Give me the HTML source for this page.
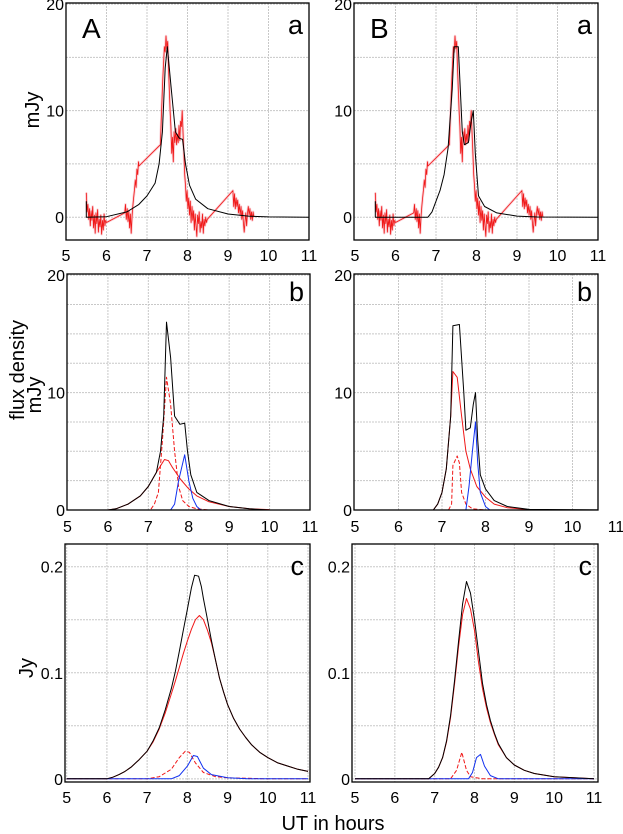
<!DOCTYPE html>
<html><head><meta charset="utf-8">
<style>
html,body{margin:0;padding:0;background:#fff;}
svg{display:block;font-family:"Liberation Sans",sans-serif;}
</style></head>
<body>
<svg id="fig" width="623" height="834" viewBox="0 0 623 834" xmlns="http://www.w3.org/2000/svg">
<text x="0" y="0" font-size="20" text-anchor="middle" transform="translate(39,110) rotate(-90)">mJy</text>
<text x="0" y="0" font-size="20" text-anchor="middle" transform="translate(24,370) rotate(-90)">flux density</text>
<text x="0" y="0" font-size="20" text-anchor="middle" transform="translate(41,395) rotate(-90)">mJy</text>
<text x="0" y="0" font-size="20" text-anchor="middle" transform="translate(33,668) rotate(-90)">Jy</text>
<text x="333" y="830" font-size="20" text-anchor="middle">UT in hours</text>
</svg>
<script>
// ---- data (hours, flux) ----
const obsT = [5.5,5.52,5.54,5.56,5.58,5.6,5.62,5.64,5.66,5.68,5.7,5.72,5.74,5.76,5.78,5.8,5.82,5.84,5.86,5.88,5.9,5.92,5.94,5.96,5.98,6.0,6.45,6.47,6.49,6.51,6.53,6.55,6.57,6.59,6.61,6.63,6.65,6.67,6.69,6.71,6.73,6.75,6.77,6.79,6.8,7.33,7.35,7.37,7.39,7.41,7.43,7.45,7.47,7.49,7.51,7.53,7.55,7.57,7.59,7.61,7.63,7.65,7.67,7.69,7.71,7.73,7.75,7.77,7.79,7.81,7.83,7.85,7.87,7.89,7.91,7.93,7.95,7.97,7.99,8.01,8.03,8.05,8.07,8.09,8.11,8.13,8.15,8.17,8.19,8.21,8.23,8.25,8.27,8.29,8.31,8.33,8.35,8.37,8.39,8.41,8.43,8.45,8.47,8.49,9.12,9.14,9.16,9.18,9.2,9.22,9.24,9.26,9.28,9.3,9.32,9.34,9.36,9.38,9.4,9.42,9.44,9.46,9.48,9.5,9.52,9.54,9.56,9.58,9.6,9.62,9.64];
const obsV = [2.3,0.5,1.2,-0.2,0.8,-0.8,0.6,-0.3,1,-1.0,0.2,-1.5,0.4,-0.6,0.7,-1.4,-0.2,-0.9,0.2,-1.6,-0.3,-1.2,0.3,-0.8,-0.3,-0.5,0.4,1.2,-0.2,0.8,-0.4,0.6,-1.0,0.3,-1.5,0.0,1.0,1.8,2.5,3.5,2.8,4.5,4.0,5.2,4.8,6.8,9,11,13,14.5,16,15.5,17,15.8,16.5,14,12,10,8.5,6,7.5,5.2,8,7,8.3,6.8,7.8,7.0,8.6,7.2,9,8.5,10,8,6,4,3,1.5,2.5,0.8,1.8,0.2,1.5,-0.5,1.0,-0.3,0.6,-1.2,0.3,-0.8,-1.8,0.2,-0.6,0.5,-1.4,-0.4,-1.0,0.3,-1.5,-0.2,-0.8,0.0,-0.5,-0.2,2.5,1.0,2.2,0.8,1.8,1.0,1.6,0.4,1.2,0.2,1.0,-0.2,0.6,-0.5,-1.4,-0.4,0.4,-0.8,0.3,1.0,0.2,0.8,-0.2,0.5,-0.3,0.5,0.0];

const aModelT = [5.5,5.5,6,6.5,6.8,7,7.2,7.3,7.38,7.45,7.5,7.6,7.7,7.8,7.88,7.95,8.05,8.2,8.5,9,9.5,10,11];
const aModelV = [1.5,0,0.05,0.5,1.2,2,3.2,5,8,14,16,12,8,7.4,7.3,5,3,1.7,0.8,0.3,0.1,0.03,0];
const bModelT = [5.5,5.5,6.8,6.9,7.0,7.1,7.2,7.3,7.4,7.45,7.55,7.6,7.65,7.7,7.8,7.87,7.92,7.97,8.05,8.2,8.5,9,9.5,11];
const bModelV = [1.5,0,0,0.5,1.5,2.5,4,6.5,12,16,16,12,8,6.8,7,9,10,6,2,1,0.4,0.1,0.02,0];

const a2BlackT = [5,6,6.2,6.5,6.8,7.0,7.2,7.3,7.38,7.45,7.55,7.65,7.78,7.9,7.97,8.05,8.2,8.5,9,9.5,10,11];
const a2BlackV = [0,0,0.1,0.5,1.2,2,3.2,5,8,16,13,8,7.3,7.4,5,3,1.5,0.8,0.3,0.1,0,0];
const a2RedT = [5,6,6.2,6.5,6.8,7,7.2,7.4,7.5,7.6,7.8,8,8.2,8.5,9,9.5,10];
const a2RedV = [0,0,0.1,0.5,1.2,2,3.2,4.3,4.2,3.6,2.6,1.8,1.2,0.7,0.3,0.1,0.03];
const a2DashT = [5,7.05,7.15,7.25,7.35,7.45,7.55,7.65,7.75,7.85,8.0,8.2,8.5,10];
const a2DashV = [0,0,0.5,1.5,6,11.3,9,5,2,0.8,0.3,0.1,0,0];
const a2BlueT = [5,7.55,7.65,7.75,7.9,8.0,8.1,8.2,8.3,11];
const a2BlueV = [0,0,0.5,2.5,4.7,2.5,1,0.3,0,0];

const b2BlackT = [5,6.8,6.9,7,7.1,7.2,7.25,7.4,7.5,7.55,7.65,7.72,7.77,7.82,7.88,8.0,8.2,8.5,9,11];
const b2BlackV = [0,0,0.5,1.5,3.5,8,15.7,15.8,10,6.8,7,9,10,6,3,1.8,0.8,0.3,0.05,0];
const b2RedT = [6.8,6.9,7,7.1,7.2,7.25,7.35,7.45,7.55,7.65,7.8,8,8.2,8.5,9,9.3];
const b2RedV = [0,0.5,1.5,3.5,8,11.8,11.3,8,5,3.5,2,1.1,0.5,0.2,0.03,0];
const b2DashT = [7.15,7.22,7.25,7.35,7.4,7.45,7.55,7.7,8];
const b2DashV = [0,0.5,3.8,4.6,4,1.5,0.5,0.1,0];
const b2BlueT = [7.55,7.62,7.7,7.77,7.82,7.88,8.0,8.1];
const b2BlueV = [0,2,5,7.5,4,1.5,0.3,0];

const a3BlackT = [5,6,6.15,6.3,6.45,6.6,6.8,7,7.15,7.3,7.45,7.6,7.7,7.8,7.9,8.0,8.1,8.18,8.28,8.35,8.4,8.5,8.6,8.7,8.8,8.9,9,9.15,9.3,9.45,9.6,9.8,10,10.25,10.5,10.75,11];
const a3BlackV = [0,0,0.0015,0.004,0.007,0.011,0.018,0.026,0.036,0.048,0.065,0.085,0.101,0.12,0.14,0.16,0.18,0.192,0.191,0.181,0.17,0.15,0.13,0.112,0.095,0.082,0.07,0.057,0.047,0.039,0.032,0.025,0.02,0.015,0.012,0.009,0.007];
const a3RedT = [5,6,6.15,6.3,6.45,6.6,6.8,7,7.15,7.3,7.45,7.6,7.7,7.8,7.9,8.0,8.1,8.2,8.3,8.4,8.5,8.6,8.7,8.8,8.9,9,9.15,9.3,9.45,9.6,9.8,10,10.25,10.5,10.75,11];
const a3RedV = [0,0,0.0015,0.004,0.007,0.011,0.018,0.026,0.035,0.047,0.062,0.08,0.092,0.105,0.118,0.13,0.141,0.15,0.154,0.15,0.14,0.128,0.112,0.095,0.082,0.07,0.057,0.047,0.039,0.032,0.025,0.02,0.015,0.012,0.009,0.007];
const a3DashT = [5,7,7.3,7.6,7.8,7.95,8.05,8.2,8.4,8.7,9,10,11];
const a3DashV = [0,0,0.002,0.009,0.02,0.026,0.025,0.015,0.006,0.002,0.001,0,0];
const a3BlueT = [5,7.6,7.8,8.0,8.15,8.25,8.4,8.6,9,9.5,11];
const a3BlueV = [0,0,0.003,0.012,0.022,0.021,0.01,0.004,0.001,0,0];

const b3BlackT = [5,6.85,7,7.1,7.2,7.3,7.4,7.5,7.6,7.7,7.8,7.9,8.0,8.1,8.2,8.3,8.4,8.5,8.6,8.8,9,9.25,9.5,10,11];
const b3BlackV = [0,0,0.005,0.011,0.02,0.036,0.06,0.093,0.13,0.165,0.186,0.175,0.15,0.12,0.09,0.07,0.055,0.043,0.033,0.02,0.013,0.008,0.005,0.002,0];
const b3RedT = [5,6.85,7,7.1,7.2,7.3,7.4,7.5,7.6,7.7,7.8,7.9,8.0,8.1,8.2,8.3,8.4,8.5,8.6,8.8,9,9.25,9.5,10,11];
const b3RedV = [0,0,0.005,0.011,0.02,0.035,0.058,0.09,0.125,0.155,0.17,0.16,0.14,0.11,0.085,0.067,0.053,0.042,0.032,0.02,0.013,0.008,0.005,0.002,0];
const b3DashT = [5,7.4,7.55,7.68,7.8,7.9,8.2,11];
const b3DashV = [0,0,0.008,0.025,0.008,0.002,0,0];
const b3BlueT = [5,7.85,7.95,8.05,8.15,8.25,8.4,8.6,11];
const b3BlueV = [0,0,0.006,0.02,0.023,0.012,0.003,0,0];

const xTicks = [5,6,7,8,9,10,11];
const yTicksMJy = [0,10,20];
const yTicksJy = [0,0.1,0.2];
const yTickLabelsJy = ["0","0.1","0.2"];

// ---- layout ----
const NS = "http://www.w3.org/2000/svg";
const svg = document.getElementById('fig');
function el(tag, attrs, parent){ const e=document.createElementNS(NS,tag); for(const k in attrs) e.setAttribute(k,attrs[k]); (parent||svg).appendChild(e); return e; }

function panel(cfg){
  const {name,fx0,fx1,fy0,fy1,px5,px11,ymin,ymax,gridStep,ticks,tickLabels,letter,big,series,tickY} = cfg;
  const sx = t => px5 + (t-5)*(px11-px5)/6;
  const sy = v => fy1 - (v-ymin)*(fy1-fy0)/(ymax-ymin);
  const g = el('g',{});
  
  
  const cid = 'clip-'+name;
  const cp = el('clipPath',{id:cid},g); el('rect',{x:fx0,y:fy0,width:fx1-fx0,height:fy1-fy0},cp);
  for (const t of xTicks){ const x=sx(t); if(x>fx0+1 && x<fx1-1){ const l=el('line',{x1:x,x2:x,y1:fy0,y2:fy1,stroke:'#c8c8c8','stroke-width':1,'stroke-dasharray':'2,1'},g);   } }
  for (let v=0; v<=ymax+1e-9; v+=gridStep){ const y=sy(v); if(y>fy0+1 && y<fy1-1){ const l=el('line',{x1:fx0,x2:fx1,y1:y,y2:y,stroke:'#c8c8c8','stroke-width':1,'stroke-dasharray':'2,1'},g);   } }
  const sg = el('g',{'clip-path':'url(#'+cid+')'},g);
  for (const s of series){
    const pts = s.t.map((t,i)=>sx(t).toFixed(1)+','+sy(s.v[i]).toFixed(1)).join(' ');
    if (s.halo){ const h=el('polyline',{points:pts,fill:'none',stroke:'#f8b8c0','stroke-width':2.5,'stroke-linejoin':'round','stroke-opacity':0.7},sg);   }
    const p=el('polyline',{points:pts,fill:'none',stroke:s.color,'stroke-width':s.halo?0.8:1,'stroke-dasharray':s.dash||'none','stroke-linejoin':'round'},sg);
    
    
  }
  const fr=el('rect',{x:fx0,y:fy0,width:fx1-fx0,height:fy1-fy0,fill:'none',stroke:'#000','stroke-width':1.3},g);
   
  for (const t of xTicks){ const x=sx(t); const tx=el('text',{x:x,y:tickY,'font-size':16,'text-anchor':'middle'},g); tx.textContent=String(t);   }
  ticks.forEach((v,i)=>{ const tx=el('text',{x:fx0-2,y:sy(v)+6,'font-size':16,'text-anchor':'end'},g); tx.textContent=tickLabels[i];   });
  const lt=el('text',{x:fx1-6,y:fy0+(cfg.letterDy||31),'font-size':27,'text-anchor':'end'},g); lt.textContent=letter;
   
  if (big){ const bt=el('text',{x:fx0+16,y:fy0+35,'font-size':28},g); bt.textContent=big;   }
}

const mLab = yTicksMJy.map(String);
panel({name:'panel-a-top',fx0:66,fx1:309,fy0:3,fy1:240,px5:66,px11:309,ymin:-2.14,ymax:20.1,gridStep:5,ticks:yTicksMJy,tickLabels:mLab,letter:'a',big:'A',tickY:261,
  series:[{name:'observed-flux',t:obsT,v:obsV,color:'#f01818',halo:true},{name:'model-total',t:aModelT,v:aModelV,color:'#000'}]});
panel({name:'panel-b-top',fx0:354,fx1:598,fy0:3,fy1:240,px5:355,px11:598,ymin:-2.14,ymax:20.1,gridStep:5,ticks:yTicksMJy,tickLabels:mLab,letter:'a',big:'B',tickY:261,
  series:[{name:'observed-flux',t:obsT,v:obsV,color:'#f01818',halo:true},{name:'model-total',t:bModelT,v:bModelV,color:'#000'}]});
panel({name:'panel-a-middle',fx0:67,fx1:310,fy0:274,fy1:510,px5:67.5,px11:310,ymin:0,ymax:20.1,gridStep:2.5,ticks:yTicksMJy,tickLabels:mLab,letter:'b',tickY:532,letterDy:27,
  series:[{name:'component-broad',t:a2RedT,v:a2RedV,color:'#f01818'},{name:'component-dashed',t:a2DashT,v:a2DashV,color:'#f01818',dash:'4,2'},{name:'component-blue',t:a2BlueT,v:a2BlueV,color:'#1030f0'},{name:'model-total',t:a2BlackT,v:a2BlackV,color:'#000'}]});
panel({name:'panel-b-middle',fx0:354,fx1:598,fy0:274,fy1:510,px5:355,px11:616,ymin:0,ymax:20.1,gridStep:2.5,ticks:yTicksMJy,tickLabels:mLab,letter:'b',tickY:532,letterDy:27,
  series:[{name:'component-broad',t:b2RedT,v:b2RedV,color:'#f01818'},{name:'component-dashed',t:b2DashT,v:b2DashV,color:'#f01818',dash:'4,2'},{name:'component-blue',t:b2BlueT,v:b2BlueV,color:'#1030f0'},{name:'model-total',t:b2BlackT,v:b2BlackV,color:'#000'}]});
panel({name:'panel-a-bottom',fx0:65,fx1:310,fy0:544,fy1:782,px5:66.7,px11:308,ymin:-0.003,ymax:0.2214,gridStep:0.05,ticks:yTicksJy,tickLabels:yTickLabelsJy,letter:'c',tickY:803,
  series:[{name:'component-broad',t:a3RedT,v:a3RedV,color:'#f01818'},{name:'component-dashed',t:a3DashT,v:a3DashV,color:'#f01818',dash:'4,2'},{name:'component-blue',t:a3BlueT,v:a3BlueV,color:'#1030f0'},{name:'model-total',t:a3BlackT,v:a3BlackV,color:'#000'}]});
panel({name:'panel-b-bottom',fx0:352,fx1:598,fy0:544,fy1:782,px5:355,px11:594,ymin:-0.003,ymax:0.2214,gridStep:0.05,ticks:yTicksJy,tickLabels:yTickLabelsJy,letter:'c',tickY:803,
  series:[{name:'component-broad',t:b3RedT,v:b3RedV,color:'#f01818'},{name:'component-dashed',t:b3DashT,v:b3DashV,color:'#f01818',dash:'4,2'},{name:'component-blue',t:b3BlueT,v:b3BlueV,color:'#1030f0'},{name:'model-total',t:b3BlackT,v:b3BlackV,color:'#000'}]});
</script>
</body></html>
